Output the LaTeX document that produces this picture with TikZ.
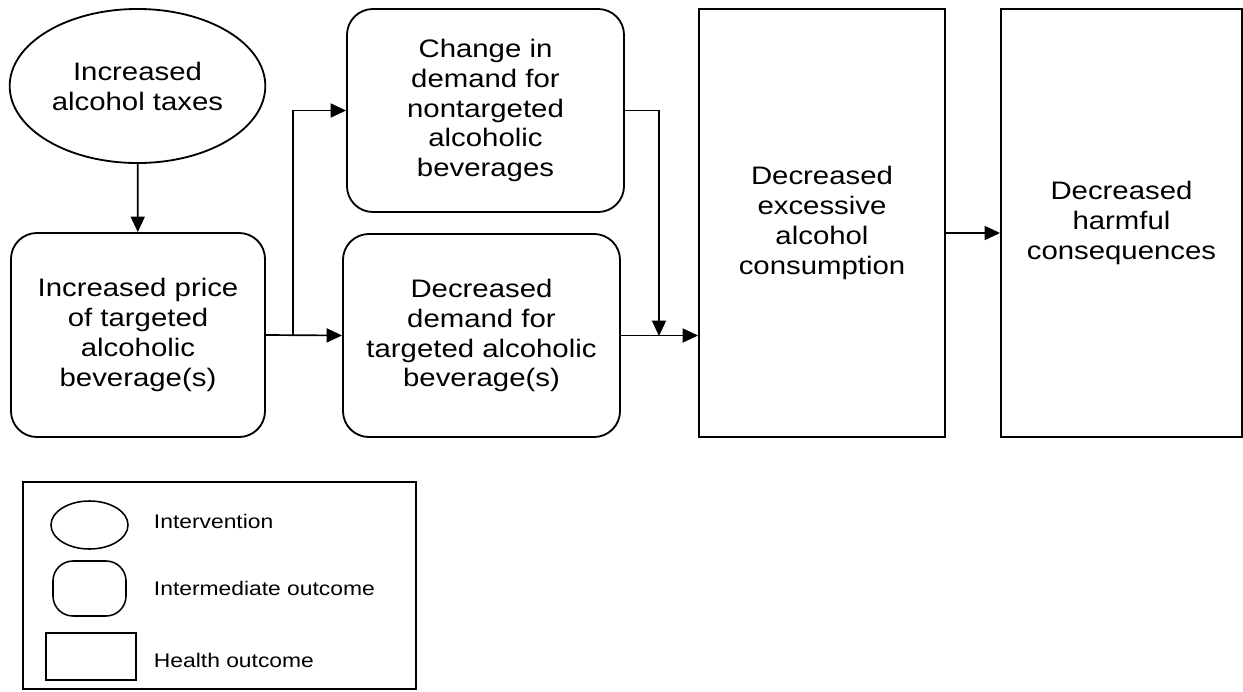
\documentclass[tikz,border=0pt]{standalone}
\usepackage{fontspec}
\setmainfont{Liberation Sans}[FakeStretch=1.16]
\usepackage{tikz}
\usetikzlibrary{shapes.geometric,arrows.meta}

\tikzset{
	intervention/.style={draw,ellipse,line width=1.3pt,align=center,font=\fontsize{18}{21.3}\selectfont},
	intermediate/.style={draw,rectangle,rounded corners=0.65cm,line width=1.3pt,align=center,font=\fontsize{18}{21.3}\selectfont},
	health/.style={draw,rectangle,line width=1.3pt,align=center,font=\fontsize{18}{21.3}\selectfont},
	arr/.style={line width=1.2pt,-{Triangle[length=11pt,width=10pt]}},
	legtext/.style={anchor=west,font=\fontsize{14}{16}\selectfont}
}

\begin{document}
\begin{tikzpicture}[x=0.025cm,y=-0.025cm]
	\useasboundingbox (0,0) rectangle (1243,691);
	% main chain
	\node[intervention,minimum width=6.025cm,minimum height=3.85cm] (tax) at (137.5,86) {Increased\\alcohol taxes};
	\node[intermediate,minimum width=6.35cm,minimum height=5.1cm] (price) at (138,335) {Increased price\\of targeted\\alcoholic\\beverage(s)};
	\node[intermediate,minimum width=6.925cm,minimum height=5.075cm] (change) at (485.5,110.5) {Change in\\demand for\\nontargeted\\alcoholic\\beverages};
	\node[intermediate,minimum width=6.925cm,minimum height=5.075cm] (demand) at (481.5,335.5) {Decreased\\demand for\\targeted alcoholic\\beverage(s)};
	\node[health,minimum width=6.15cm,minimum height=10.7cm] (excess) at (822,223) {Decreased\\excessive\\alcohol\\consumption};
	\node[health,minimum width=6.025cm,minimum height=10.7cm] (harm) at (1121.5,223) {Decreased\\harmful\\consequences};
	\coordinate (split) at (293,335);
	\coordinate (join) at (659,336);
	\coordinate (link) at (0,233);
	% connectors
	\draw[arr] (tax) -- (price);
	\draw[arr] (price.east) -- (demand.west);
	\draw[arr] (split) |- (change.west);
	\draw[arr] (change.east) -| (join);
	\draw[arr] (demand.east) -- (demand.east -| excess.west);
	\draw[arr] (excess.east |- link) -- (harm.west |- link);
	% legend
	\node[draw,line width=1.2pt,minimum width=9.825cm,minimum height=5.175cm] (legend) at (219.5,585.5) {};
	\node[draw,ellipse,line width=1.1pt,minimum width=1.925cm,minimum height=1.2cm] (legint) at (89.5,525) {};
	\node[draw,rounded corners=0.5cm,line width=1.1pt,minimum width=1.825cm,minimum height=1.375cm] (legmid) at (89.5,588.5) {};
	\node[draw,line width=1.1pt,minimum width=2.25cm,minimum height=1.175cm] (leghealth) at (91,656.5) {};
	\node[legtext] (tint) at (149,521) {Intervention};
	\node[legtext] (tmid) at (149,588) {Intermediate outcome};
	\node[legtext] (thealth) at (149,660) {Health outcome};
\end{tikzpicture}
\end{document}
